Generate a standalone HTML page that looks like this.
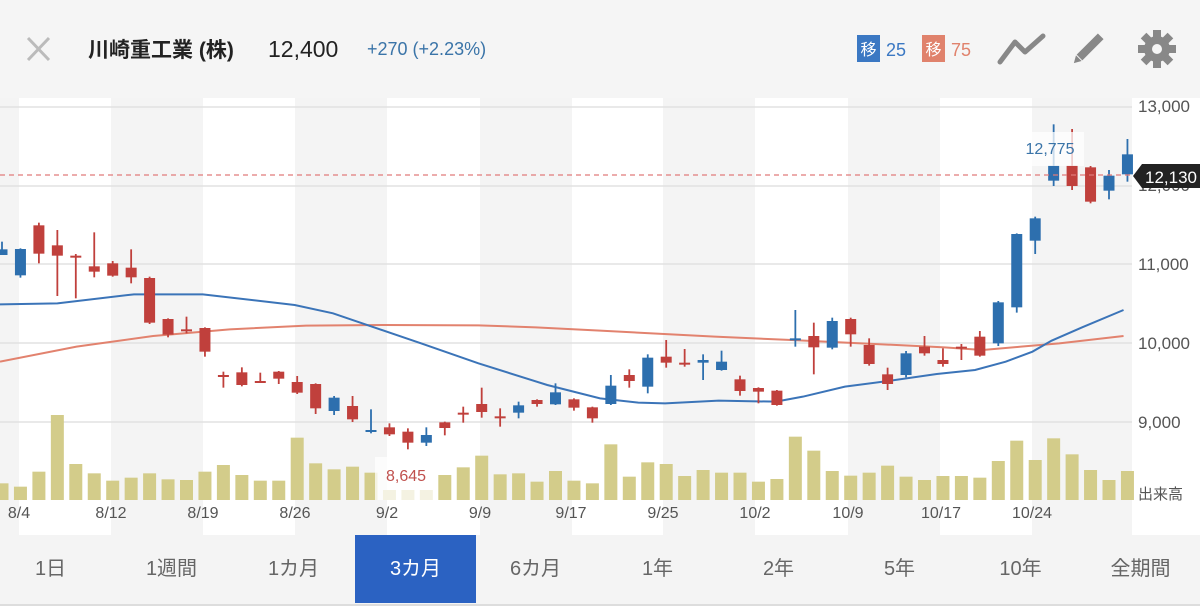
<!DOCTYPE html>
<html><head><meta charset="utf-8">
<style>
html,body{margin:0;padding:0;width:1200px;height:606px;overflow:hidden;background:#fff;font-family:"Liberation Sans","Noto Sans CJK JP",sans-serif;}
#hdr{position:absolute;left:0;top:0;width:1200px;height:98px;background:#f5f5f5;}
#tabs{position:absolute;left:0;top:535px;width:1200px;height:71px;background:#f4f4f4;border-bottom:2px solid #ddd;box-sizing:border-box;}
.tab{position:absolute;top:0;height:68px;line-height:68px;font-size:20px;color:#666;text-align:center;width:121px;}
.tab.on{background:#2b62c2;color:#fff;}
</style></head><body>
<div id="hdr">
<svg width="1200" height="98" style="position:absolute;left:0;top:0">
<g stroke="#bbb" stroke-width="3"><line x1="28" y1="38" x2="49" y2="60"/><line x1="49" y1="38" x2="28" y2="60"/></g>
<text x="88" y="57" font-size="21" font-weight="bold" fill="#222" font-family="Liberation Sans,Noto Sans CJK JP,sans-serif">川崎重工業 (株)</text>
<text x="268" y="57" font-size="23" fill="#222">12,400</text>
<text x="367" y="55" font-size="18" fill="#3a74a8">+270 (+2.23%)</text>
<rect x="857" y="35" width="23" height="27" fill="#3b78c3"/>
<text x="868.5" y="55" font-size="16" fill="#fff" text-anchor="middle" font-family="Noto Sans CJK JP,sans-serif">移</text>
<text x="886" y="56" font-size="18" fill="#3b78c3">25</text>
<rect x="922" y="35" width="23" height="27" fill="#e0826c"/>
<text x="933.5" y="55" font-size="16" fill="#fff" text-anchor="middle" font-family="Noto Sans CJK JP,sans-serif">移</text>
<text x="951" y="56" font-size="18" fill="#e0826c">75</text>
<polyline points="1000,62 1015,42 1025,52 1043,36" fill="none" stroke="#888" stroke-width="5" stroke-linejoin="round" stroke-linecap="round"/>
<g transform="translate(1088,49) rotate(45)"><rect x="-4" y="-18" width="8" height="30" fill="#888"/><polygon points="-4,13 4,13 0,20" fill="#888"/></g>
<g transform="translate(1157,49)" fill="#888">
<circle r="13"/>
<g id="teeth"><rect x="-4" y="-19" width="8" height="8"/><rect x="-4" y="11" width="8" height="8"/><rect x="-19" y="-4" width="8" height="8"/><rect x="11" y="-4" width="8" height="8"/></g>
<use href="#teeth" transform="rotate(45)"/>
<circle r="5" fill="#f5f5f5"/>
</g>
</svg>
</div>
<svg id="ch" width="1200" height="437" style="position:absolute;left:0;top:98px"></svg>
<div id="tabs">
<div class="tab" style="left:-10px">1日</div>
<div class="tab" style="left:111px">1週間</div>
<div class="tab" style="left:233px">1カ月</div>
<div class="tab on" style="left:355px">3カ月</div>
<div class="tab" style="left:475px">6カ月</div>
<div class="tab" style="left:597px">1年</div>
<div class="tab" style="left:718px">2年</div>
<div class="tab" style="left:839px">5年</div>
<div class="tab" style="left:960px">10年</div>
<div class="tab" style="left:1080px">全期間</div>
</div>
<script>
var s='';var OY=98;
function Y(z){return 90+z/3-OY;}
function X2(z){return 600+z/2.613;}
function X1(z){return z/2.613;}
// bands
s+='<rect x="0" y="0" width="19" height="437" fill="#f4f4f4"/>';
[111,295,480,663,848,1032].forEach(function(b){s+='<rect x="'+b+'" y="0" width="'+(b==1032?100:92)+'" height="437" fill="#f4f4f4"/>';});
// grid
[107,186,264,343,422].forEach(function(g){s+='<line x1="0" x2="1132" y1="'+(g-OY)+'" y2="'+(g-OY)+'" stroke="#e2e2e2" stroke-width="1.5"/>';});
// volume
var vol=[1180,1190,1145,975,1122,1150,1172,1163,1150,1168,1170,1145,1125,1155,1172,1172,1043,1120,1138,1130,1148,1200,1200,1200,1155,1132,1097,1153,1150,1175,1143,1172,1180,1063,1160,1117,1122,1158,1140,1148,1148,1175,1167,1040,1082,1143,1157,1148,1127,1160,1170,1158,1158,1163,1113,1052,1110,1045,1093,1140,1170,1143];
function cx(i){return 2+18.45*i;}
vol.forEach(function(v,i){var t=Y(v);s+='<rect x="'+(cx(i)-6.5)+'" y="'+t+'" width="13" height="'+(402-t)+'" fill="#d3cc8a"/>';});
// 8,645 label box
s+='<rect x="375" y="'+(457-OY)+'" width="61" height="43" fill="#fff" opacity="0.75"/>';
// MA lines
var b1=[[0,643],[150,640],[350,613],[530,613],[770,645],[870,670],[980,713],[1100,760],[1250,820],[1430,885],[1568,925]].map(function(p){return X1(p[0])+','+Y(p[1]);});
var b2=[[100,938],[170,940],[310,932],[460,935],[530,920],[640,890],[740,875],[880,852],[980,840],[1060,815],[1130,785],[1180,752],[1260,712],[1368,660]].map(function(p){return X2(p[0])+','+Y(p[1]);});
var r1=[[0,815],[200,770],[400,738],[600,718],[800,707],[1000,705],[1250,706],[1400,712],[1568,722]].map(function(p){return X1(p[0])+','+Y(p[1]);});
var r2=[[300,740],[500,750],[900,772],[1000,780],[1100,770],[1200,760],[1368,738]].map(function(p){return X2(p[0])+','+Y(p[1]);});
s+='<polyline points="'+r1.concat(r2).join(' ')+'" fill="none" stroke="#e2826e" stroke-width="2"/>';
s+='<polyline points="'+b1.concat(b2).join(' ')+'" fill="none" stroke="#3b74b8" stroke-width="2"/>';
// candles: color, hi, top, bot, lo
var C=[['b',455,478,495,495],['b',475,477,556,563],['r',398,406,491,520],['r',420,466,497,618],['r',492,497,502,625],['r',427,529,545,562],['r',513,520,557,560],['r',478,533,562,580],['r',560,564,698,702],['r',685,687,734,742],['r',680,718,723,730],['r',712,714,785,800],['r',845,855,858,893],['r',832,847,885,889],['r',848,873,877,878],['r',843,845,866,882],['r',858,876,908,912],['r',880,882,955,972],['b',918,923,963,975],['r',918,948,988,996],['b',958,1020,1024,1030],['r',1000,1012,1033,1038],['r',1015,1025,1058,1078],['b',1012,1035,1058,1068],['r',995,997,1014,1036],['r',950,968,972,998],['r',893,942,966,983],['r',955,979,983,1010],['b',935,946,968,985],['r',928,930,942,950],['b',880,907,943,945],['r',925,928,953,962],['r',950,952,985,998],
['b',855,887,942,945],['r',838,855,873,893],['b',793,803,890,910],['r',750,800,818,833],['r',777,818,823,830],['b',793,810,818,870],['b',782,815,840,842],['r',857,868,903,917],['r',892,894,905,940],['r',900,902,945,947],['b',660,745,750,770],['r',698,738,772,853],['b',683,693,773,778],['r',683,687,733,770],['r',745,765,822,827],['r',833,853,882,900],['b',783,790,855,862],['r',738,770,790,797],['r',775,810,822,830],['r',762,770,775,810],['r',723,740,797,800],['b',633,637,760,768],['b',430,432,652,668],['b',380,385,452,492],['b',103,227,272,288],['r',117,227,288,300],['r',228,232,335,340],['b',240,257,302,328],['b',147,193,253,275]];
C.forEach(function(c,i){var x=cx(i),col=c[0]=='r'?'#c0403c':'#2d6fae';
s+='<line x1="'+x+'" x2="'+x+'" y1="'+Y(c[1])+'" y2="'+Y(c[4])+'" stroke="'+col+'" stroke-width="1.8"/>';
s+='<rect x="'+(x-5.5)+'" y="'+Y(c[2])+'" width="11" height="'+Math.max(2,Y(c[3])-Y(c[2]))+'" fill="'+col+'"/>';});
// 12,775 label
s+='<rect x="1025" y="'+(132-OY)+'" width="59" height="34" fill="#fff" opacity="0.75"/>';
s+='<text x="1050" y="'+(154-OY)+'" font-size="16" fill="#3a74a8" text-anchor="middle">12,775</text>';
s+='<text x="406" y="'+(481-OY)+'" font-size="16" fill="#c0504d" text-anchor="middle">8,645</text>';
// dashed current line
s+='<line x1="0" x2="1135" y1="'+(175-OY)+'" y2="'+(175-OY)+'" stroke="#e07a7a" stroke-width="1.2" stroke-dasharray="5,4"/>';
// axis labels
[['13,000',112],['12,000',191],['11,000',270],['10,000',349],['9,000',428]].forEach(function(l){s+='<text x="1138" y="'+(l[1]-OY)+'" font-size="17" fill="#555">'+l[0]+'</text>';});
s+='<polygon points="1133,'+(176-OY)+' 1142,'+(164-OY)+' 1200,'+(164-OY)+' 1200,'+(188-OY)+' 1142,'+(188-OY)+'" fill="#222"/>';
s+='<text x="1145" y="'+(183-OY)+'" font-size="17" fill="#fff">12,130</text>';
s+='<text x="1138" y="'+(499-OY)+'" font-size="15" fill="#555" font-family="Noto Sans CJK JP,sans-serif">出来高</text>';
[['8/4',19],['8/12',111],['8/19',203],['8/26',295],['9/2',387],['9/9',480],['9/17',571],['9/25',663],['10/2',755],['10/9',848],['10/17',941],['10/24',1032]].forEach(function(d){s+='<text x="'+d[1]+'" y="'+(518-OY)+'" font-size="16" fill="#555" text-anchor="middle">'+d[0]+'</text>';});
document.getElementById('ch').innerHTML=s;
</script>
</body></html>
